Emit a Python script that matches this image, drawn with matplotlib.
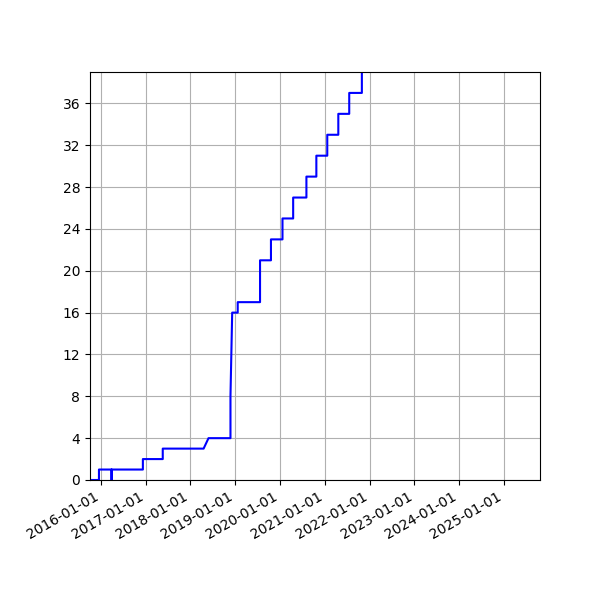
import numpy as np
import matplotlib
matplotlib.use("Agg")
import matplotlib.pyplot as plt
import matplotlib.dates as mdates

# path of the cumulative count (dates)
dates = ["2015-10-06", "2015-12-18", "2015-12-18", "2016-03-30", "2016-03-30",
         "2016-03-30", "2016-12-10", "2016-12-10", "2017-05-21", "2017-05-21",
         "2018-04-19", "2018-05-29", "2018-11-24", "2018-11-24", "2018-12-08",
         "2019-01-22", "2019-01-22", "2019-07-23", "2019-07-23", "2019-10-20",
         "2019-10-20", "2020-01-22", "2020-01-22", "2020-04-18", "2020-04-18",
         "2020-08-04", "2020-08-04", "2020-10-24", "2020-10-24", "2021-01-21",
         "2021-01-21", "2021-04-21", "2021-04-21", "2021-07-19", "2021-07-19",
         "2021-10-30", "2021-10-30"]
counts = [0, 0, 1, 1, 0,
          1, 1, 2, 2, 3,
          3, 4, 4, 8, 16,
          16, 17, 17, 21, 21,
          23, 23, 25, 25, 27,
          27, 29, 29, 31, 31,
          33, 33, 35, 35, 37,
          37, 42]

x = np.array(dates, dtype="datetime64[D]")
y = np.array(counts)

fig, ax = plt.subplots(figsize=(6, 6), dpi=100)
ax.plot(x, y, color="blue")
ax.set_xlim(np.datetime64("2015-10-06"), np.datetime64("2025-10-21"))
ax.set_ylim(0, 39)
ax.set_yticks(np.arange(0, 37, 4))
ax.xaxis.set_major_locator(mdates.YearLocator())
ax.xaxis.set_major_formatter(mdates.DateFormatter("%Y-%m-%d"))
ax.grid(True)
fig.autofmt_xdate()
fig.subplots_adjust(left=0.15, right=0.9, top=0.88, bottom=0.2)
fig.savefig("out.png")
